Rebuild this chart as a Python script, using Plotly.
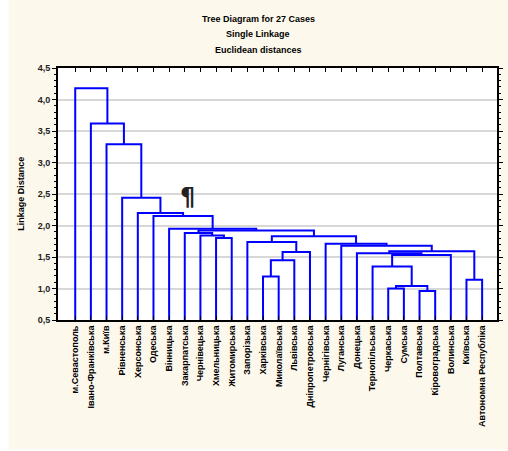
import plotly.graph_objects as go

# Regions (leaf order along the x axis)
regions = [
    "м.Севастополь", "Івано-Франківська", "м.Київ", "Рівненська", "Херсонська",
    "Одеська", "Вінницька", "Закарпатська", "Чернівецька", "Хмельницька",
    "Житомирська", "Запорізька", "Харківська", "Миколаївська", "Львівська",
    "Дніпропетровська", "Чернігівська", "Луганська", "Донецька", "Тернопільська",
    "Черкаська", "Сумська", "Полтавська", "Кіровоградська", "Волинська",
    "Київська", "Автономна Республіка",
]

# Single-linkage merge steps: ids < 27 are leaves, id 27+k is the k-th merge
merge_left = [22, 20, 28, 25, 12, 19, 31, 32, 18, 33, 35, 17, 16,
              11, 9, 40, 8, 7, 44, 6, 5, 4, 3, 2, 1, 0]
merge_right = [23, 21, 27, 26, 13, 29, 14, 24, 34, 15, 30, 37, 38,
               36, 10, 39, 41, 43, 42, 45, 46, 47, 48, 49, 50, 51]
merge_height = [0.96, 1.00, 1.04, 1.14, 1.19, 1.35, 1.45, 1.53, 1.56, 1.58,
                1.59, 1.68, 1.71, 1.74, 1.80, 1.83, 1.84, 1.88, 1.92, 1.95,
                2.15, 2.20, 2.44, 3.29, 3.62, 4.18]

y_ticks = [0.5, 1.0, 1.5, 2.0, 2.5, 3.0, 3.5, 4.0, 4.5]

title_lines = ["Tree Diagram for 27 Cases", "Single Linkage", "Euclidean distances"]

n_leaves = len(regions)
leaf_pos = list(range(1, n_leaves + 1))

# Build the elbow segments of the dendrogram
node_x = {i: leaf_pos[i] for i in range(n_leaves)}
node_h = {i: 0.0 for i in range(n_leaves)}
xs, ys = [], []
for k, (a, b, h) in enumerate(zip(merge_left, merge_right, merge_height)):
    xa, xb = node_x[a], node_x[b]
    xs += [xa, xa, xb, xb, None]
    ys += [node_h[a], h, h, node_h[b], None]
    node_x[n_leaves + k] = (xa + xb) / 2
    node_h[n_leaves + k] = h

FONT = "Liberation Sans, Arial, sans-serif"
CREAM = "#fdf8ec"

fig = go.Figure()
fig.add_trace(go.Scatter(
    x=xs, y=ys, mode="lines",
    line=dict(color="#0000ff", width=2),
    hoverinfo="skip", showlegend=False,
))

fig.update_layout(
    width=508, height=451,
    margin=dict(l=58, r=5, t=68, b=131),
    paper_bgcolor=CREAM,
    plot_bgcolor="#ffffff",
    separators=", ",
    font=dict(family=FONT, size=9, color="#000000"),
    showlegend=False,
)

fig.update_xaxes(
    range=[-0.1, 27.95],
    tickmode="array", tickvals=leaf_pos, ticktext=regions,
    tickangle=-90,
    tickfont=dict(family=FONT, size=9, color="#000000", weight="bold"),
    ticks="inside", ticklen=4, tickcolor="#000000",
    showline=True, linecolor="#000000", linewidth=2, mirror="ticks",
    showgrid=False, zeroline=False,
)

fig.update_yaxes(
    range=[0.5, 4.5],
    tickmode="array", tickvals=y_ticks, tickformat=".1f",
    tickfont=dict(family=FONT, size=9, color="#222222", weight="bold"),
    ticks="outside", ticklen=4, tickcolor="#000000",
    minor=dict(dtick=0.1, ticklen=2, tickcolor="#000000", showgrid=False),
    showline=True, linecolor="#000000", linewidth=2, mirror="ticks",
    showgrid=True, gridcolor="#d8d8d8", gridwidth=1.5,
    zeroline=False,
)

# Three-line heading
for line, yp in zip(title_lines, [1.196, 1.136, 1.073]):
    fig.add_annotation(
        text=line, xref="paper", yref="paper", x=0.456, y=yp,
        xanchor="center", yanchor="middle", showarrow=False,
        font=dict(family=FONT, size=9, color="#000000", weight="bold"),
    )

# Vertical axis caption
fig.add_annotation(
    text="Linkage Distance", xref="paper", yref="paper",
    x=-0.085, y=0.5, textangle=-90, xanchor="center", yanchor="middle",
    showarrow=False,
    font=dict(family=FONT, size=9, color="#000000", weight="bold"),
)

# Pilcrow glyph floating above the middle branches
fig.add_annotation(
    text="¶", xref="paper", yref="paper", x=0.295, y=0.49,
    xanchor="center", yanchor="middle", showarrow=False,
    font=dict(family="DejaVu Sans", size=24, color="#222222", weight="bold"),
)

# White strip along the left and bottom edges of the page
fig.add_shape(type="rect", xref="paper", yref="paper",
              x0=-0.14, x1=-0.1124, y0=-0.53, y1=1.3,
              fillcolor="#ffffff", line=dict(width=0), layer="below")
fig.add_shape(type="rect", xref="paper", yref="paper",
              x0=-0.14, x1=1.02, y0=-0.53, y1=-0.5125,
              fillcolor="#ffffff", line=dict(width=0), layer="below")

fig.write_html("out.html")
